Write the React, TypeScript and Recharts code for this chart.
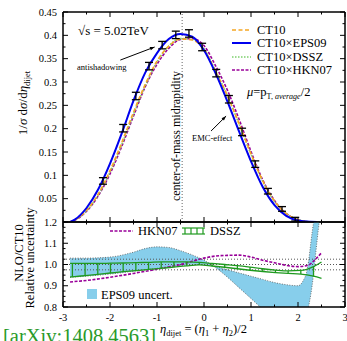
import React from "react";
import {
  Area,
  ComposedChart,
  ErrorBar,
  Line,
  ReferenceArea,
  ReferenceLine,
  Scatter,
  XAxis,
  YAxis,
} from "recharts";

const SERIF = "'Liberation Serif', 'DejaVu Serif', serif";

// upper panel: normalised distributions 1/sigma dsigma/deta
const etaCurve = [-2.85, -2.75, -2.5, -2.25, -2, -1.75, -1.5, -1.25, -1, -0.75, -0.5, -0.25, 0, 0.25, 0.5, 0.75, 1, 1.25, 1.5, 1.75, 2, 2.25, 2.4];
const ct10 = [0, 0.004, 0.025, 0.06, 0.11, 0.17, 0.235, 0.295, 0.345, 0.377, 0.392, 0.39, 0.37, 0.322, 0.27, 0.21, 0.146, 0.088, 0.045, 0.018, 0.005, 0.0005, 0];
const eps09 = [0, 0.005, 0.03, 0.07, 0.125, 0.19, 0.26, 0.32, 0.362, 0.392, 0.403, 0.397, 0.368, 0.318, 0.258, 0.193, 0.13, 0.075, 0.036, 0.013, 0.003, 0.0003, 0];
const dssz = [0, 0.004, 0.024, 0.058, 0.107, 0.166, 0.231, 0.292, 0.343, 0.377, 0.393, 0.391, 0.371, 0.323, 0.27, 0.209, 0.145, 0.087, 0.044, 0.018, 0.005, 0.0005, 0];
const hkn07 = [0, 0.0037, 0.023, 0.056, 0.103, 0.162, 0.227, 0.29, 0.338, 0.372, 0.391, 0.393, 0.378, 0.334, 0.282, 0.219, 0.151, 0.09, 0.046, 0.018, 0.005, 0.0005, 0];

// points with error bars
const ptEta = [-2.15, -1.72, -1.45, -1.17, -0.89, -0.6, -0.32, -0.04, 0.26, 0.53, 0.81, 1.09, 1.36, 1.66, 1.94];
const ptVal = [0.088, 0.201, 0.27, 0.334, 0.379, 0.401, 0.404, 0.375, 0.319, 0.263, 0.193, 0.124, 0.066, 0.028, 0.006];
const ptErr = [0.007, 0.008, 0.008, 0.008, 0.008, 0.008, 0.008, 0.008, 0.008, 0.008, 0.008, 0.007, 0.006, 0.005, 0.004];

// lower panel: ratios to CT10
const ratioEta = [-2.85, -2.5, -2, -1.5, -1, -0.5, 0, 0.25, 0.5, 0.75, 1, 1.25, 1.5, 1.75, 2, 2.2, 2.35, 2.5];
const hknRatio = [0.918, 0.925, 0.94, 0.958, 0.978, 1.0, 1.03, 1.04, 1.043, 1.044, 1.035, 1.02, 1.008, 0.996, 0.99, 0.995, 1.02, 1.055];

const bandEta = [-2.85, -2.5, -2, -1.5, -1.25, -1, -0.75, -0.5, -0.25, 0, 0.25, 0.5, 0.75, 1, 1.25, 1.5, 1.75, 2, 2.1, 2.2, 2.3, 2.4, 2.5];
const bandA = [1.03, 1.03, 1.035, 1.058, 1.075, 1.083, 1.08, 1.065, 1.045, 1.02, 0.985, 0.94, 0.89, 0.84, 0.79, 0.75, 0.72, 0.72, 0.74, 0.78, 0.9, 1.1, 1.3];
const bandB = [0.94, 0.945, 0.955, 0.968, 0.975, 0.982, 0.99, 0.995, 1.0, 1.0, 0.99, 0.975, 0.96, 0.945, 0.93, 0.915, 0.905, 0.9, 0.92, 0.98, 1.15, 1.3, 1.4];

const dsszEta = [-2.85, -2.8, -2.53, -2.26, -1.99, -1.72, -1.45, -1.18, -0.91, -0.64, -0.37, -0.1, 0.17, 0.44, 0.71, 0.98, 1.25, 1.52, 1.79, 2.06, 2.33, 2.5];
const dsszHi = [1.005, 1.005, 1.005, 1.005, 1.006, 1.007, 1.009, 1.01, 1.012, 1.012, 1.012, 1.01, 1.005, 1.0, 0.995, 0.988, 0.98, 0.974, 0.97, 0.972, 0.99, 1.012];
const dsszLo = [0.941, 0.942, 0.948, 0.954, 0.96, 0.966, 0.971, 0.977, 0.982, 0.988, 0.994, 0.998, 0.993, 0.987, 0.98, 0.973, 0.967, 0.962, 0.958, 0.955, 0.945, 0.935];

// axis ticks
const xTicks = [-3, -2.5, -2, -1.5, -1, -0.5, 0, 0.5, 1, 1.5, 2, 2.5, 3];
const xMajor = [-3, -2, -1, 0, 1, 2, 3];
const xLabels = ["-3", "-2", "-1", "0", "1", "2", "3"];
const yTicksUp = [0, 0.025, 0.05, 0.075, 0.1, 0.125, 0.15, 0.175, 0.2, 0.225, 0.25, 0.275, 0.3, 0.325, 0.35, 0.375, 0.4, 0.425, 0.45];
const yMajorUp = [0.05, 0.1, 0.15, 0.2, 0.25, 0.3, 0.35, 0.4, 0.45];
const yLabelsUp = ["0.05", "0.1", "0.15", "0.2", "0.25", "0.3", "0.35", "0.4", "0.45"];
const yTicksLo = [0.8, 0.825, 0.85, 0.875, 0.9, 0.925, 0.95, 0.975, 1.0, 1.025, 1.05, 1.075, 1.1, 1.125, 1.15, 1.175, 1.2];
const yMajorLo = [0.8, 0.9, 1.0, 1.1, 1.2];
const yLabelsLo = ["0.8", "0.9", "1.0", "1.1", "1.2"];

const midRapidity = -0.465;

const curveData = (ys: number[]) => etaCurve.map((x, i) => ({ x, y: ys[i] }));
const ptData = ptEta.map((x, i) => ({ x, y: ptVal[i], e: ptErr[i] }));
const hknData = ratioEta.map((x, i) => ({ x, y: hknRatio[i] }));
const bandData = bandEta.map((x, i) => ({ x, r: [bandA[i], bandB[i]] }));
const dsszHiData = dsszEta.map((x, i) => ({ x, y: dsszHi[i] }));
const dsszLoData = dsszEta.map((x, i) => ({ x, y: dsszLo[i] }));
const rungData = dsszEta.slice(1, -1).map((x, i) => {
  const hi = dsszHi[i + 1];
  const lo = dsszLo[i + 1];
  const mid = (hi + lo) / 2;
  return { x, y: mid, e: [mid - lo, hi - mid] };
});

type Side = "left" | "right" | "top" | "bottom";

// inward tick marks, long ones on majors, label only where given
function tickDrawer(side: Side, majors: number[], labels?: string[]) {
  return (props: any) => {
    const { x, y, payload } = props;
    const i = majors.findIndex((m) => Math.abs(m - payload.value) < 1e-9);
    const len = i >= 0 ? 5 : 2.5;
    let x2 = x;
    let y2 = y;
    if (side === "left") x2 = x + len;
    if (side === "right") x2 = x - len;
    if (side === "top") y2 = y + len;
    if (side === "bottom") y2 = y - len;
    const lab = labels && i >= 0 ? labels[i] : null;
    return (
      <g>
        <line x1={x} y1={y} x2={x2} y2={y2} stroke="#000" strokeWidth={1} />
        {lab && side === "left" && (
          <text x={x - 6} y={y + 3.5} textAnchor="end" fontSize={10.5} fontFamily={SERIF} fill="#000">
            {lab}
          </text>
        )}
        {lab && side === "bottom" && (
          <text x={x} y={y + 14} textAnchor="middle" fontSize={10.5} fontFamily={SERIF} fill="#000">
            {lab}
          </text>
        )}
      </g>
    );
  };
}

const arrowShape = (props: any) => {
  const { x1, y1, x2, y2 } = props;
  const a = Math.atan2(y2 - y1, x2 - x1);
  const h = 5;
  const p1 = `${x2 - h * Math.cos(a - 0.35)},${y2 - h * Math.sin(a - 0.35)}`;
  const p2 = `${x2 - h * Math.cos(a + 0.35)},${y2 - h * Math.sin(a + 0.35)}`;
  return (
    <g>
      <line x1={x1} y1={y1} x2={x2} y2={y2} stroke="#000" strokeWidth={1} />
      <polygon points={`${x2},${y2} ${p1} ${p2}`} fill="#000" />
    </g>
  );
};

const axisCommon = {
  tickSize: 0,
  tickMargin: 0,
  tickLine: false,
  interval: 0 as const,
  axisLine: { stroke: "#000", strokeWidth: 1 },
};

function UpperPanel() {
  return (
    <ComposedChart width={347} height={232} margin={{ top: 11, right: 1, bottom: 9, left: 13 }}>
      <XAxis xAxisId="b" type="number" dataKey="x" domain={[-3, 3]} ticks={xTicks} height={1} allowDataOverflow
        {...axisCommon} tick={tickDrawer("bottom", xMajor)} />
      <XAxis xAxisId="t" orientation="top" type="number" dataKey="x" domain={[-3, 3]} ticks={xTicks} height={1}
        allowDataOverflow {...axisCommon} tick={tickDrawer("top", xMajor)} />
      <YAxis yAxisId="l" type="number" domain={[0, 0.45]} ticks={yTicksUp} width={50} allowDataOverflow
        {...axisCommon} tick={tickDrawer("left", yMajorUp, yLabelsUp)} />
      <YAxis yAxisId="r" orientation="right" type="number" domain={[0, 0.45]} ticks={yTicksUp} width={1}
        allowDataOverflow {...axisCommon} tick={tickDrawer("right", yMajorUp)} />
      <ReferenceArea xAxisId="b" yAxisId="l" x1={-3} x2={3} y1={0} y2={0.45} fill="none" stroke="#000"
        strokeWidth={1} />
      <ReferenceLine xAxisId="b" yAxisId="l" x={midRapidity} stroke="#666" strokeDasharray="1 2" />
      <Line xAxisId="b" yAxisId="l" data={curveData(hkn07)} dataKey="y" type="monotone" stroke="#990099"
        strokeWidth={1.6} strokeDasharray="3 1.5" dot={false} isAnimationActive={false} />
      <Line xAxisId="b" yAxisId="l" data={curveData(dssz)} dataKey="y" type="monotone" stroke="#7ccf6c"
        strokeWidth={1.6} strokeDasharray="1.5 1.5" dot={false} isAnimationActive={false} />
      <Line xAxisId="b" yAxisId="l" data={curveData(ct10)} dataKey="y" type="monotone" stroke="#f5a623"
        strokeWidth={1.6} strokeDasharray="4 2.5" dot={false} isAnimationActive={false} />
      <Line xAxisId="b" yAxisId="l" data={curveData(eps09)} dataKey="y" type="monotone" stroke="#0000ee"
        strokeWidth={2} dot={false} isAnimationActive={false} />
      <Scatter xAxisId="b" yAxisId="l" data={ptData} dataKey="y" shape={() => <g />} isAnimationActive={false}>
        <ErrorBar dataKey="e" direction="y" width={4} stroke="#000" strokeWidth={1.3} isAnimationActive={false} />
      </Scatter>
      <ReferenceLine xAxisId="b" yAxisId="l" segment={[{ x: -1.78, y: 0.347 }, { x: -1.05, y: 0.375 }]}
        shape={arrowShape} />
      <ReferenceLine xAxisId="b" yAxisId="l" segment={[{ x: 0.15, y: 0.195 }, { x: 0.47, y: 0.227 }]}
        shape={arrowShape} />
    </ComposedChart>
  );
}

function LowerPanel() {
  return (
    <ComposedChart width={347} height={131} margin={{ top: 11, right: 1, bottom: 33, left: 13 }}>
      <XAxis xAxisId="b" type="number" dataKey="x" domain={[-3, 3]} ticks={xTicks} height={1} allowDataOverflow
        {...axisCommon} tick={tickDrawer("bottom", xMajor, xLabels)} />
      <XAxis xAxisId="t" orientation="top" type="number" dataKey="x" domain={[-3, 3]} ticks={xTicks} height={1}
        allowDataOverflow {...axisCommon} tick={tickDrawer("top", xMajor)} />
      <YAxis yAxisId="l" type="number" domain={[0.8, 1.2]} ticks={yTicksLo} width={50} allowDataOverflow
        {...axisCommon} tick={tickDrawer("left", yMajorLo, yLabelsLo)} />
      <YAxis yAxisId="r" orientation="right" type="number" domain={[0.8, 1.2]} ticks={yTicksLo} width={1}
        allowDataOverflow {...axisCommon} tick={tickDrawer("right", yMajorLo)} />
      <Area xAxisId="b" yAxisId="l" data={bandData} dataKey="r" type="monotone" fill="#87ceeb" fillOpacity={1}
        stroke="#555" strokeWidth={0.8} strokeDasharray="1 1.5" isAnimationActive={false} />
      <ReferenceLine xAxisId="b" yAxisId="l" y={1.025} stroke="#555" strokeDasharray="1 2" />
      <ReferenceLine xAxisId="b" yAxisId="l" y={1.0} stroke="#555" strokeDasharray="1 2" />
      <ReferenceLine xAxisId="b" yAxisId="l" y={0.975} stroke="#555" strokeDasharray="1 2" />
      <Line xAxisId="b" yAxisId="l" data={hknData} dataKey="y" type="monotone" stroke="#990099"
        strokeWidth={1.6} strokeDasharray="3 1.5" dot={false} isAnimationActive={false} />
      <Line xAxisId="b" yAxisId="l" data={dsszHiData} dataKey="y" type="monotone" stroke="#1f9a1f"
        strokeWidth={1.3} dot={false} isAnimationActive={false} />
      <Line xAxisId="b" yAxisId="l" data={dsszLoData} dataKey="y" type="monotone" stroke="#1f9a1f"
        strokeWidth={1.3} dot={false} isAnimationActive={false} />
      <Scatter xAxisId="b" yAxisId="l" data={rungData} dataKey="y" shape={() => <g />} isAnimationActive={false}>
        <ErrorBar dataKey="e" direction="y" width={0} stroke="#1f9a1f" strokeWidth={1.3} isAnimationActive={false} />
      </Scatter>
      <ReferenceArea xAxisId="b" yAxisId="l" x1={-3} x2={3} y1={0.8} y2={1.2} fill="none" stroke="#000"
        strokeWidth={1} />
    </ComposedChart>
  );
}

function Overlay() {
  const t = { fontFamily: SERIF, fill: "#000" };
  return (
    <svg width={347} height={341} style={{ position: "absolute", left: 0, top: 0, pointerEvents: "none" }}>
      <text x={78} y={35} fontSize={13} {...t}>√s = 5.02TeV</text>
      <text x={77} y={70} fontSize={8.5} {...t}>antishadowing</text>
      <text x={192} y={141} fontSize={8.5} {...t}>EMC-effect</text>
      <text transform="translate(180,136) rotate(-90)" textAnchor="middle" fontSize={12} {...t}>
        center-of-mass midrapidity
      </text>
      {/* legend, upper panel */}
      <line x1={232} x2={251} y1={30} y2={30} stroke="#f5a623" strokeWidth={1.6} strokeDasharray="4 2.5" />
      <line x1={232} x2={251} y1={43} y2={43} stroke="#0000ee" strokeWidth={2} />
      <line x1={232} x2={251} y1={57} y2={57} stroke="#7ccf6c" strokeWidth={1.6} strokeDasharray="1.5 1.5" />
      <line x1={232} x2={251} y1={70} y2={70} stroke="#990099" strokeWidth={1.6} strokeDasharray="3 1.5" />
      <text x={257} y={34} fontSize={12.5} {...t}>CT10</text>
      <text x={257} y={47} fontSize={12.5} {...t}>CT10×EPS09</text>
      <text x={257} y={61} fontSize={12.5} {...t}>CT10×DSSZ</text>
      <text x={257} y={74} fontSize={12.5} {...t}>CT10×HKN07</text>
      <text x={247} y={96} fontSize={12.5} {...t}>
        <tspan fontStyle="italic">μ</tspan>=p
        <tspan fontSize={8} dy={3}>T, </tspan>
        <tspan fontSize={8} fontStyle="italic">average</tspan>
        <tspan dy={-3}>/2</tspan>
      </text>
      {/* legend, lower panel */}
      <line x1={110} x2={133} y1={231} y2={231} stroke="#990099" strokeWidth={1.6} strokeDasharray="3 1.5" />
      <text x={138} y={235} fontSize={12.5} {...t}>HKN07</text>
      <g stroke="#1f9a1f" strokeWidth={1.2}>
        <line x1={182} x2={205} y1={228} y2={228} />
        <line x1={182} x2={205} y1={234} y2={234} />
        <line x1={185} x2={185} y1={228} y2={234} />
        <line x1={191} x2={191} y1={228} y2={234} />
        <line x1={197} x2={197} y1={228} y2={234} />
        <line x1={203} x2={203} y1={228} y2={234} />
      </g>
      <text x={210} y={235} fontSize={12.5} {...t}>DSSZ</text>
      <rect x={87} y={289} width={10} height={10} fill="#87ceeb" />
      <text x={101} y={299} fontSize={12.5} {...t}>EPS09 uncert.</text>
      {/* axis titles */}
      <text transform="translate(27,103) rotate(-90)" textAnchor="middle" fontSize={13} {...t}>
        1/<tspan fontStyle="italic">σ</tspan> d<tspan fontStyle="italic">σ</tspan>/d
        <tspan fontStyle="italic">η</tspan>
        <tspan fontSize={8.5} dy={3}>dijet</tspan>
      </text>
      <text transform="translate(23,253) rotate(-90)" textAnchor="middle" fontSize={12.5} {...t}>NLO/CT10</text>
      <text transform="translate(34,258) rotate(-90)" textAnchor="middle" fontSize={12.5} {...t}>
        Relative uncertainty
      </text>
      <text x={160} y={333} fontSize={12.5} {...t}>
        <tspan fontStyle="italic">η</tspan>
        <tspan fontSize={8.5} dy={3}>dijet</tspan>
        <tspan dy={-3}> = (</tspan>
        <tspan fontStyle="italic">η</tspan>
        <tspan fontSize={8.5} dy={3}>1</tspan>
        <tspan dy={-3}> + </tspan>
        <tspan fontStyle="italic">η</tspan>
        <tspan fontSize={8.5} dy={3}>2</tspan>
        <tspan dy={-3}>)/2</tspan>
      </text>
      <text x={3} y={343} fontSize={20.5} fontFamily={SERIF} fill="#2a9a2a">[arXiv:1408.4563]</text>
    </svg>
  );
}

export default function App() {
  return (
    <div style={{ position: "absolute", left: 0, top: 0, width: 347, height: 341, background: "#fff" }}>
      <div style={{ position: "absolute", left: 0, top: 0 }}>
        <UpperPanel />
      </div>
      <div style={{ position: "absolute", left: 0, top: 210 }}>
        <LowerPanel />
      </div>
      <Overlay />
    </div>
  );
}
